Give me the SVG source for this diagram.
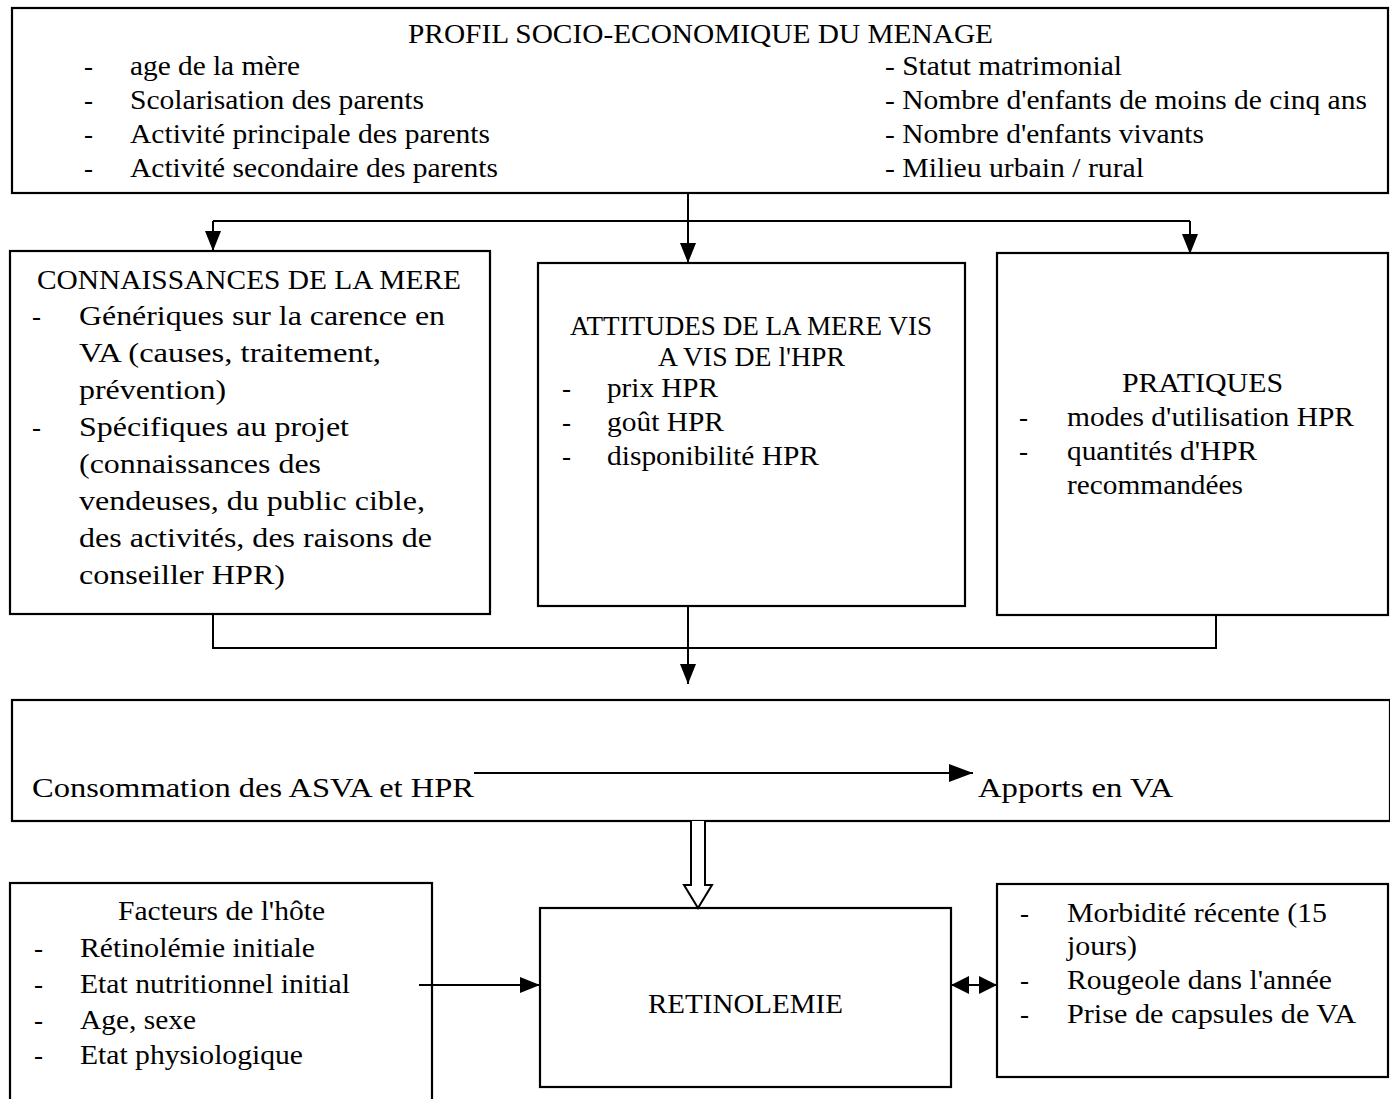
<svg xmlns="http://www.w3.org/2000/svg" width="1390" height="1099" viewBox="0 0 1390 1099">
<style>
  .box{fill:#fff;stroke:#000;stroke-width:2.2}
  .ln{fill:none;stroke:#000;stroke-width:2}
  text{font-family:"Liberation Serif","Times New Roman",serif;font-size:27px;fill:#000}
  .c{text-anchor:middle}
</style>
<defs>
  <marker id="ah" markerUnits="userSpaceOnUse" markerWidth="20" markerHeight="16" viewBox="0 0 20 16" refX="20" refY="8" orient="auto">
    <path d="M0,0 L20,8 L0,16 z" fill="#000"/>
  </marker>
  <marker id="ahb" markerUnits="userSpaceOnUse" markerWidth="24" markerHeight="18" viewBox="0 0 24 18" refX="24" refY="9" orient="auto">
    <path d="M0,0 L24,9 L0,18 z" fill="#000"/>
  </marker>
  <marker id="ah2" markerUnits="userSpaceOnUse" markerWidth="18" markerHeight="18" viewBox="0 0 18 18" refX="18" refY="9" orient="auto-start-reverse">
    <path d="M0,0 L18,9 L0,18 z" fill="#000"/>
  </marker>
</defs>
<rect width="1390" height="1099" fill="#fff"/>

<g id="profil">
  <rect class="box" x="12" y="8" width="1376" height="185"/>
  <text x="408" y="43" textLength="585" lengthAdjust="spacingAndGlyphs">PROFIL SOCIO-ECONOMIQUE DU MENAGE</text>
  <text x="84" y="75">-</text><text x="130" y="75" textLength="170" lengthAdjust="spacingAndGlyphs">age de la mère</text>
  <text x="84" y="109">-</text><text x="130" y="109" textLength="294" lengthAdjust="spacingAndGlyphs">Scolarisation des parents</text>
  <text x="84" y="143">-</text><text x="130" y="143" textLength="360" lengthAdjust="spacingAndGlyphs">Activité principale des parents</text>
  <text x="84" y="177">-</text><text x="130" y="177" textLength="368" lengthAdjust="spacingAndGlyphs">Activité secondaire des parents</text>
  <text x="885" y="75" textLength="237" lengthAdjust="spacingAndGlyphs">- Statut matrimonial</text>
  <text x="885" y="109" textLength="482" lengthAdjust="spacingAndGlyphs">- Nombre d'enfants de moins de cinq ans</text>
  <text x="885" y="143" textLength="319" lengthAdjust="spacingAndGlyphs">- Nombre d'enfants vivants</text>
  <text x="885" y="177" textLength="259" lengthAdjust="spacingAndGlyphs">- Milieu urbain / rural</text>
</g>

<g id="connaissances">
  <rect class="box" x="10" y="251" width="480" height="363"/>
  <text x="37" y="289" textLength="424" lengthAdjust="spacingAndGlyphs">CONNAISSANCES DE LA MERE</text>
  <text x="32" y="325">-</text><text x="79" y="325" textLength="366" lengthAdjust="spacingAndGlyphs">Génériques sur la carence en</text>
  <text x="79" y="362" textLength="302" lengthAdjust="spacingAndGlyphs">VA (causes, traitement,</text>
  <text x="79" y="399" textLength="147" lengthAdjust="spacingAndGlyphs">prévention)</text>
  <text x="32" y="436">-</text><text x="79" y="436" textLength="270" lengthAdjust="spacingAndGlyphs">Spécifiques au projet</text>
  <text x="79" y="473" textLength="242" lengthAdjust="spacingAndGlyphs">(connaissances des</text>
  <text x="79" y="510" textLength="346" lengthAdjust="spacingAndGlyphs">vendeuses, du public cible,</text>
  <text x="79" y="547" textLength="353" lengthAdjust="spacingAndGlyphs">des activités, des raisons de</text>
  <text x="79" y="584" textLength="206" lengthAdjust="spacingAndGlyphs">conseiller HPR)</text>
</g>

<g id="attitudes">
  <rect class="box" x="538" y="263" width="427" height="343"/>
  <text x="570" y="335" textLength="362" lengthAdjust="spacingAndGlyphs">ATTITUDES DE LA MERE VIS</text>
  <text x="658" y="366" textLength="187" lengthAdjust="spacingAndGlyphs">A VIS DE  l'HPR</text>
  <text x="562" y="397">-</text><text x="607" y="397" textLength="111" lengthAdjust="spacingAndGlyphs">prix HPR</text>
  <text x="562" y="431">-</text><text x="607" y="431" textLength="117" lengthAdjust="spacingAndGlyphs">goût HPR</text>
  <text x="562" y="465">-</text><text x="607" y="465" textLength="212" lengthAdjust="spacingAndGlyphs">disponibilité HPR</text>
</g>

<g id="pratiques">
  <rect class="box" x="997" y="253" width="391" height="362"/>
  <text x="1122" y="392" textLength="161" lengthAdjust="spacingAndGlyphs">PRATIQUES</text>
  <text x="1019" y="426">-</text><text x="1067" y="426" textLength="287" lengthAdjust="spacingAndGlyphs">modes d'utilisation HPR</text>
  <text x="1019" y="460">-</text><text x="1067" y="460" textLength="190" lengthAdjust="spacingAndGlyphs">quantités d'HPR</text>
  <text x="1067" y="494" textLength="176" lengthAdjust="spacingAndGlyphs">recommandées</text>
</g>

<g id="consommation">
  <rect class="box" x="12" y="700" width="1378" height="121"/>
  <text x="32" y="797" textLength="442" lengthAdjust="spacingAndGlyphs">Consommation des ASVA et HPR</text>
  <text x="978" y="797" textLength="195" lengthAdjust="spacingAndGlyphs">Apports en VA</text>
</g>

<g id="facteurs">
  <rect class="box" x="10" y="883" width="422" height="230"/>
  <text x="118" y="920" textLength="207" lengthAdjust="spacingAndGlyphs">Facteurs de l'hôte</text>
  <text x="34" y="957">-</text><text x="80" y="957" textLength="235" lengthAdjust="spacingAndGlyphs">Rétinolémie initiale</text>
  <text x="34" y="993">-</text><text x="80" y="993" textLength="270" lengthAdjust="spacingAndGlyphs">Etat nutritionnel initial</text>
  <text x="34" y="1029">-</text><text x="80" y="1029" textLength="116" lengthAdjust="spacingAndGlyphs">Age, sexe</text>
  <text x="34" y="1064">-</text><text x="80" y="1064" textLength="223" lengthAdjust="spacingAndGlyphs">Etat physiologique</text>
</g>

<g id="retinolemie">
  <rect class="box" x="540" y="908" width="411" height="179"/>
  <text x="648" y="1013" textLength="195" lengthAdjust="spacingAndGlyphs">RETINOLEMIE</text>
</g>

<g id="morbidite">
  <rect class="box" x="997" y="884" width="391" height="193"/>
  <text x="1020" y="922">-</text><text x="1067" y="922" textLength="260" lengthAdjust="spacingAndGlyphs">Morbidité récente (15</text>
  <text x="1067" y="955" textLength="70" lengthAdjust="spacingAndGlyphs">jours)</text>
  <text x="1020" y="989">-</text><text x="1067" y="989" textLength="265" lengthAdjust="spacingAndGlyphs">Rougeole dans l'année</text>
  <text x="1020" y="1023">-</text><text x="1067" y="1023" textLength="289" lengthAdjust="spacingAndGlyphs">Prise de capsules de VA</text>
</g>

<g id="connectors">
  <path class="ln" d="M688,193 V263" marker-end="url(#ah)"/>
  <path class="ln" d="M213,221 H1190"/>
  <path class="ln" d="M213,221 V251" marker-end="url(#ah)"/>
  <path class="ln" d="M1190,221 V254" marker-end="url(#ah)"/>
  <path class="ln" d="M213,614 V648 H1216 V615"/>
  <path class="ln" d="M688,606 V684" marker-end="url(#ah)"/>
  <path class="ln" d="M474,773 H973" stroke-width="3" marker-end="url(#ahb)"/>
  <path d="M691,821 V885 H684 L698,908 L712,885 H705 V821" fill="#fff" stroke="#000" stroke-width="2"/>
  <path class="ln" d="M419,985 H540" marker-end="url(#ah)"/>
  <path class="ln" d="M951,985 H997" marker-start="url(#ah2)" marker-end="url(#ah2)"/>
</g>
</svg>
